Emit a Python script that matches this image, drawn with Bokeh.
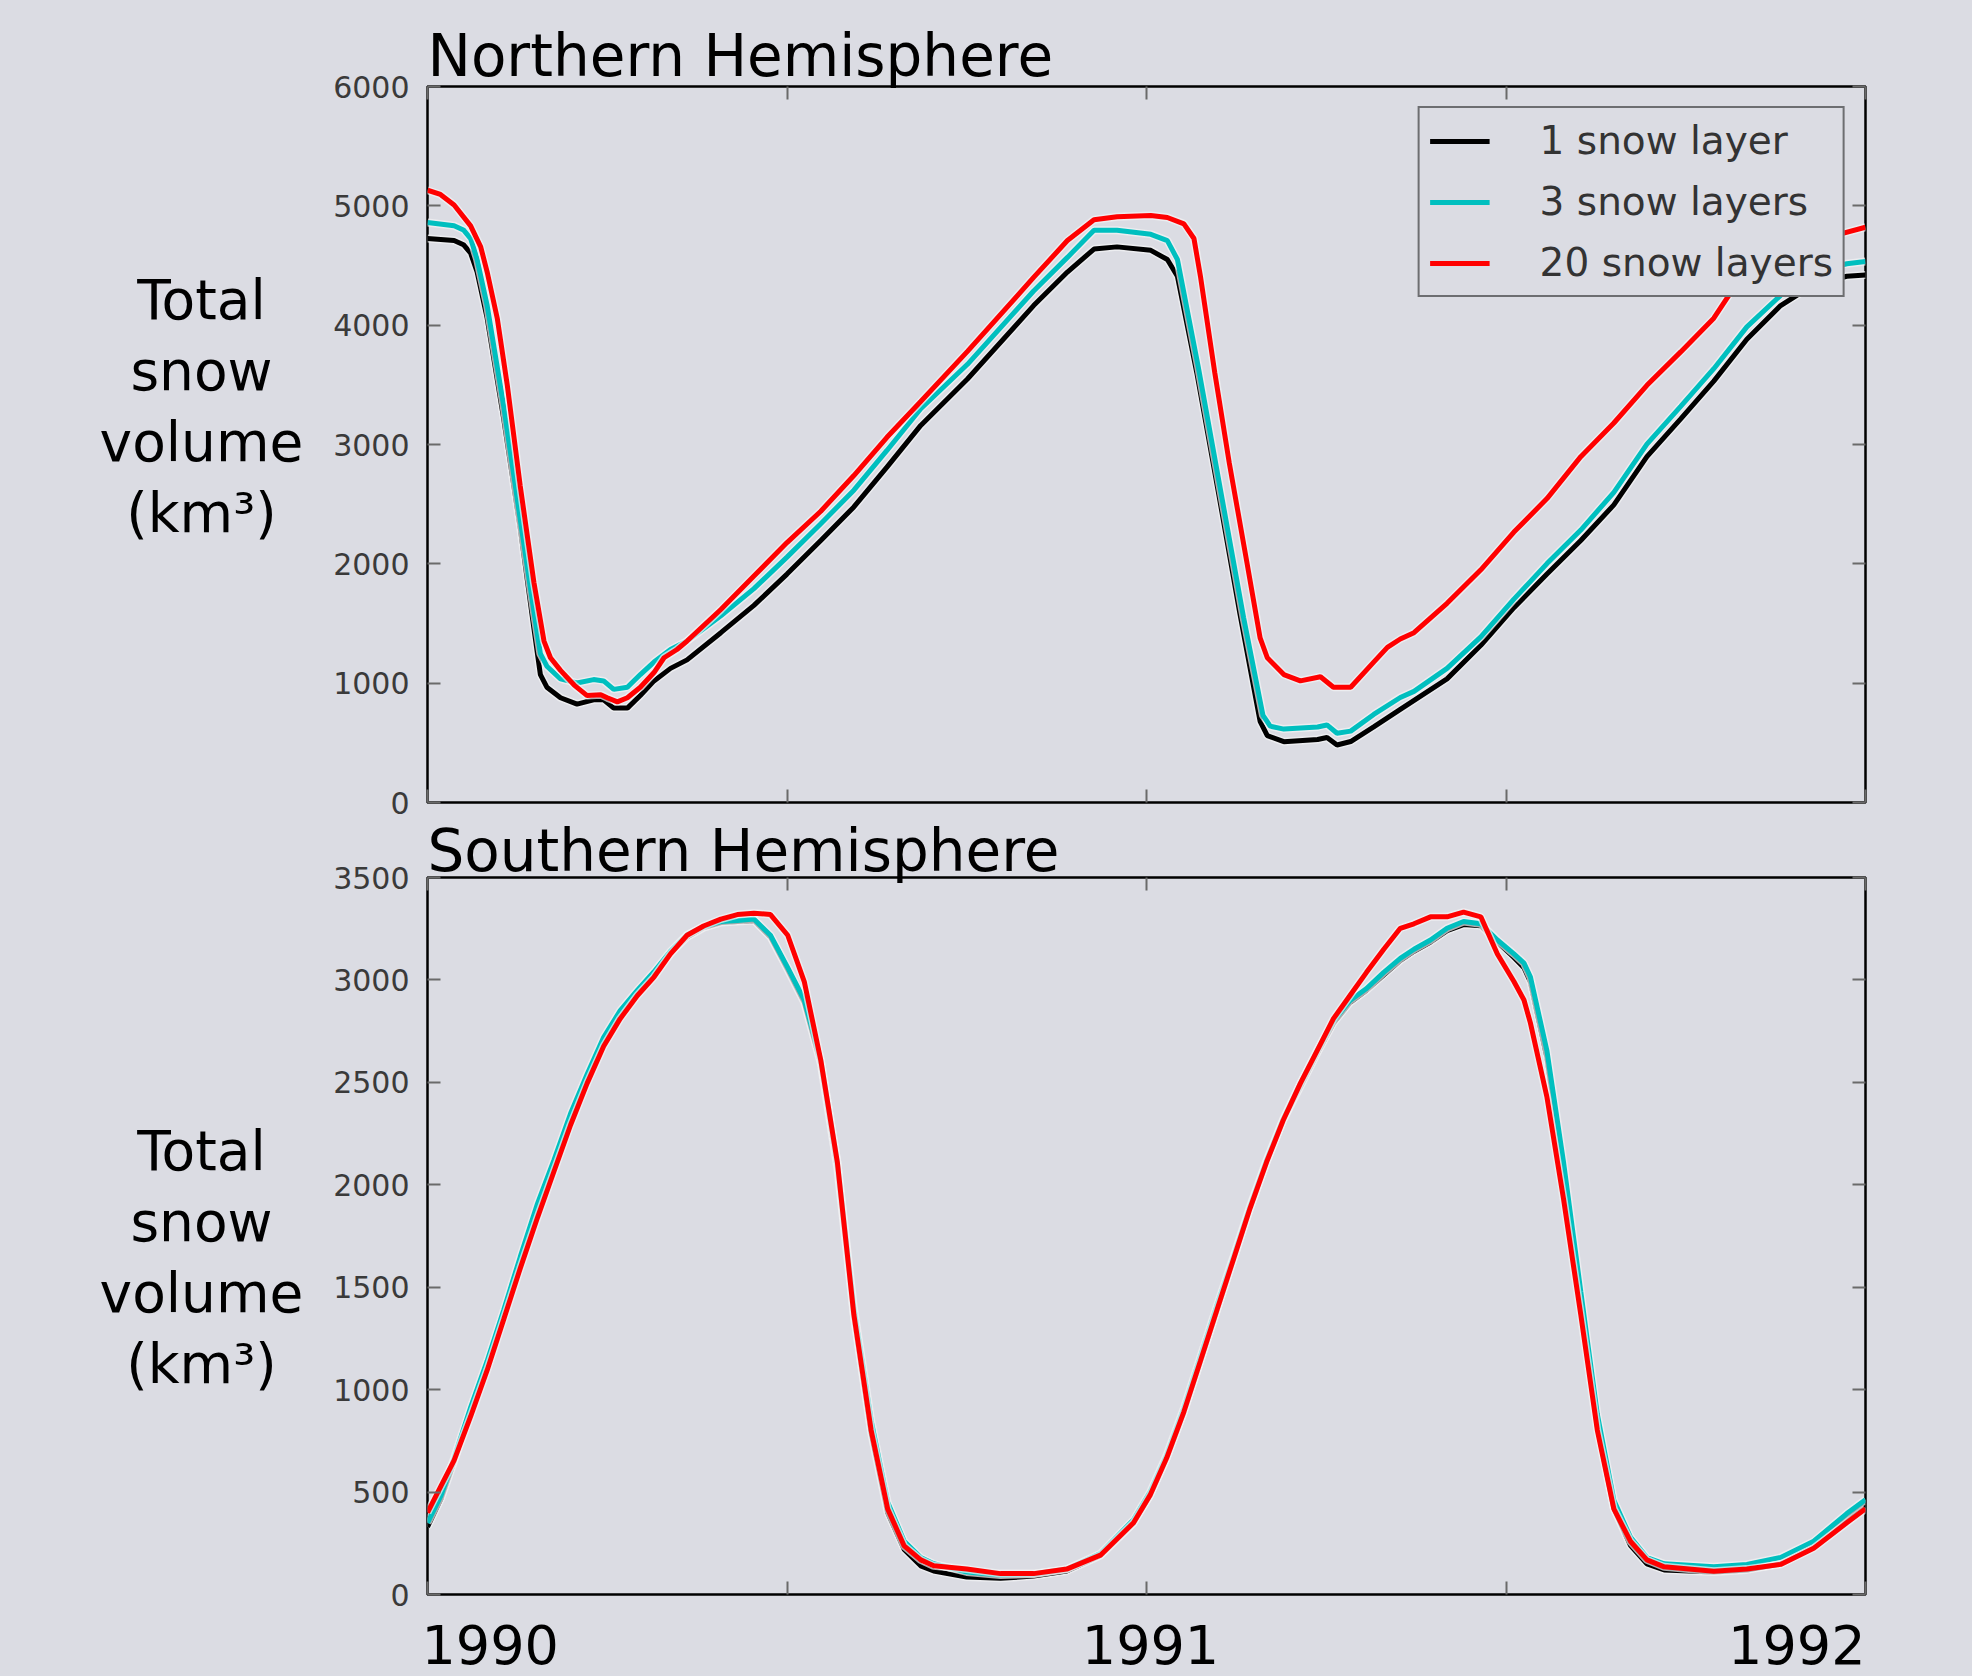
from bokeh.plotting import figure
from bokeh.models import Range1d, FixedTicker, LinearAxis, Legend, LegendItem, CustomLabelingPolicy
from bokeh.layouts import column, row
from bokeh.embed import file_html
from bokeh.resources import INLINE
from bokeh.core.properties import value

# ---------------- data (fractional years, km^3) ----------------
nh_1_x = [1990.000, 1990.037, 1990.050, 1990.060, 1990.069, 1990.083, 1990.106, 1990.129, 1990.148, 1990.157,
          1990.166, 1990.185, 1990.208, 1990.231, 1990.245, 1990.259, 1990.278, 1990.296, 1990.315, 1990.338,
          1990.361, 1990.408, 1990.454, 1990.500, 1990.547, 1990.593, 1990.639, 1990.686, 1990.751, 1990.843,
          1990.890, 1990.927, 1990.959, 1991.006, 1991.029, 1991.043, 1991.070, 1991.100, 1991.130, 1991.158,
          1991.168, 1991.191, 1991.238, 1991.251, 1991.265, 1991.284, 1991.316, 1991.353, 1991.418, 1991.465,
          1991.511, 1991.557, 1991.604, 1991.650, 1991.696, 1991.743, 1991.789, 1991.835, 1991.882, 1991.928,
          1991.974, 1992.000]
nh_1_y = [4726, 4710, 4674, 4603, 4445, 4058, 3215, 2301, 1458, 1072,
          966, 878, 825, 860, 860, 791, 791, 896, 1019, 1124,
          1195, 1423, 1652, 1914, 2196, 2477, 2810, 3160, 3549, 4164,
          4445, 4638, 4656, 4627, 4550, 4410, 3600, 2600, 1580, 680,
          560, 510, 528, 545, 482, 511, 633, 780, 1036, 1317,
          1633, 1914, 2196, 2494, 2898, 3215, 3531, 3882, 4164, 4339,
          4410, 4420]

nh_3_x = [1990.000, 1990.037, 1990.050, 1990.060, 1990.069, 1990.083, 1990.106, 1990.129, 1990.148, 1990.157,
          1990.166, 1990.185, 1990.208, 1990.231, 1990.245, 1990.259, 1990.278, 1990.296, 1990.315, 1990.338,
          1990.361, 1990.408, 1990.454, 1990.500, 1990.547, 1990.593, 1990.639, 1990.686, 1990.751, 1990.843,
          1990.890, 1990.927, 1990.959, 1991.006, 1991.029, 1991.043, 1991.072, 1991.105, 1991.135, 1991.162,
          1991.172, 1991.191, 1991.238, 1991.251, 1991.265, 1991.284, 1991.316, 1991.353, 1991.372, 1991.418,
          1991.465, 1991.511, 1991.557, 1991.604, 1991.650, 1991.696, 1991.743, 1991.789, 1991.835, 1991.882,
          1991.928, 1991.974, 1992.000]
nh_3_y = [4861, 4833, 4798, 4726, 4551, 4164, 3319, 2371, 1599, 1248,
          1142, 1036, 1001, 1030, 1019, 948, 966, 1072, 1177, 1282,
          1353, 1564, 1792, 2056, 2336, 2617, 2950, 3300, 3672, 4286,
          4568, 4796, 4796, 4761, 4709, 4550, 3650, 2550, 1550, 730,
          640, 615, 633, 650, 580, 598, 738, 880, 931, 1124,
          1388, 1704, 2002, 2283, 2599, 3003, 3319, 3635, 3986, 4250,
          4446, 4515, 4533]

nh_20_x = [1990.000, 1990.018, 1990.037, 1990.060, 1990.074, 1990.083, 1990.097, 1990.111, 1990.129, 1990.148,
           1990.162, 1990.171, 1990.185, 1990.204, 1990.222, 1990.241, 1990.250, 1990.264, 1990.278, 1990.296,
           1990.315, 1990.329, 1990.347, 1990.361, 1990.408, 1990.454, 1990.500, 1990.547, 1990.593, 1990.639,
           1990.686, 1990.751, 1990.843, 1990.890, 1990.927, 1990.959, 1991.006, 1991.029, 1991.052, 1991.066,
           1991.075, 1991.095, 1991.115, 1991.140, 1991.158, 1991.168, 1991.191, 1991.214, 1991.242, 1991.260,
           1991.284, 1991.316, 1991.335, 1991.353, 1991.372, 1991.418, 1991.465, 1991.511, 1991.557, 1991.604,
           1991.650, 1991.696, 1991.743, 1991.789, 1991.812, 1991.880, 1991.950, 1992.000]
nh_20_y = [5131, 5095, 5007, 4832, 4656, 4445, 4058, 3496, 2652, 1845,
           1353, 1213, 1107, 984, 896, 903, 878, 843, 878, 966,
           1089, 1213, 1282, 1353, 1617, 1898, 2178, 2441, 2740, 3060,
           3360, 3780, 4400, 4709, 4884, 4909, 4919, 4902, 4849, 4726,
           4410, 3600, 2850, 2000, 1380, 1213, 1072, 1019, 1054, 966,
           966, 1176, 1300, 1370, 1423, 1669, 1950, 2266, 2547, 2898,
           3180, 3496, 3776, 4058, 4269, 4530, 4740, 4821]

sh_x = [1990.000, 1990.019, 1990.037, 1990.060, 1990.083, 1990.106, 1990.129, 1990.153, 1990.176, 1990.199,
        1990.222, 1990.245, 1990.268, 1990.292, 1990.315, 1990.338, 1990.361, 1990.384, 1990.408, 1990.431,
        1990.454, 1990.477, 1990.501, 1990.524, 1990.547, 1990.570, 1990.593, 1990.617, 1990.640, 1990.663,
        1990.686, 1990.704, 1990.750, 1990.797, 1990.843, 1990.889, 1990.936, 1990.982, 1991.005, 1991.028,
        1991.052, 1991.075, 1991.098, 1991.121, 1991.144, 1991.167, 1991.190, 1991.214, 1991.237, 1991.260,
        1991.283, 1991.306, 1991.330, 1991.353, 1991.372, 1991.395, 1991.418, 1991.441, 1991.465, 1991.488,
        1991.511, 1991.525, 1991.534, 1991.557, 1991.580, 1991.604, 1991.627, 1991.650, 1991.673, 1991.696,
        1991.720, 1991.789, 1991.835, 1991.882, 1991.928, 1991.974, 1992.000]
sh_1_y = [330, 470, 650, 900, 1120, 1370, 1625, 1885, 2100, 2325,
          2520, 2700, 2835, 2940, 3030, 3130, 3210, 3255, 3280, 3285,
          3290, 3210, 3050, 2890, 2590, 2080, 1360, 790, 400, 220,
          140, 115, 85, 79, 90, 115, 190, 350, 485, 666,
          892, 1140, 1389, 1637, 1885, 2111, 2314, 2480, 2640, 2790,
          2890, 2950, 3025, 3095, 3140, 3185, 3240, 3270, 3265, 3185,
          3110, 3060, 2990, 2620, 2060, 1420, 820, 420, 240, 150,
          120, 110, 120, 150, 235, 370, 440]
sh_3_y = [350, 485, 666, 914, 1140, 1389, 1648, 1908, 2122, 2348,
          2540, 2720, 2850, 2950, 3040, 3140, 3220, 3260, 3285, 3290,
          3297, 3218, 3060, 2902, 2608, 2111, 1400, 850, 450, 260,
          180, 150, 110, 95, 100, 124, 200, 365, 500, 680,
          910, 1160, 1410, 1650, 1895, 2120, 2320, 2495, 2653, 2800,
          2900, 2958, 3037, 3105, 3150, 3195, 3252, 3285, 3274, 3195,
          3127, 3082, 3014, 2653, 2111, 1479, 880, 460, 280, 180,
          150, 135, 147, 181, 260, 395, 463]
sh_20_y = [400, 531, 655, 869, 1095, 1343, 1592, 1840, 2066, 2292,
           2495, 2676, 2811, 2924, 3014, 3127, 3218, 3263, 3297, 3319,
           3326, 3319, 3218, 2992, 2608, 2111, 1366, 802, 418, 237,
           169, 140, 124, 102, 102, 124, 192, 350, 485, 666,
           892, 1140, 1389, 1637, 1885, 2111, 2314, 2495, 2653, 2811,
           2924, 3037, 3150, 3252, 3274, 3308, 3308, 3331, 3308, 3127,
           2992, 2902, 2789, 2427, 1931, 1366, 802, 418, 260, 169,
           135, 113, 124, 147, 226, 350, 418]

series_labels = ["1 snow layer", "3 snow layers", "20 snow layers"]
series_colors = ["#000000", "#00bfbf", "#ff0000"]
x_ticks = [1990.0, 1990.5, 1991.0, 1991.5, 1992.0]
year_ticks = [1990.0, 1991.0, 1992.0]
year_labels = ["1990", "1991", "1992"]
nh_yticks = [0, 1000, 2000, 3000, 4000, 5000, 6000]
sh_yticks = [0, 500, 1000, 1500, 2000, 2500, 3000, 3500]
ylabel_lines = ["Total", "snow", "volume", "(km\u00b3)"]

# ---------------- layout / style (pixels) ----------------
BG = "#dbdce3"
FONT = "DejaVu Sans"
FRAME_W = 1438
LAB_W = 320          # width of the side panel holding the y-axis titles
LEFT = 107           # border left of each plot frame (for tick labels)
RIGHT = 105
NH_TOP, NH_FRAME_H, NH_BOT = 86, 716, 18
SH_TOP, SH_FRAME_H, SH_BOT = 57, 717, 18
YEAR_H = 64
PX = 2.0 / FRAME_W   # years per pixel

NO_LABELS = "for (const i of indices) { indices.unset(i) }\nreturn indices"


def add_axis(p, side, ticks, labels=False):
    ax = LinearAxis(ticker=FixedTicker(ticks=ticks))
    ax.axis_line_color = None
    ax.major_tick_in = 13
    ax.major_tick_out = 0
    ax.major_tick_line_color = "#6a6a6a"
    ax.major_tick_line_width = 2
    ax.minor_tick_line_color = None
    ax.axis_label_standoff = 0
    if labels:
        ax.major_label_text_font = FONT
        ax.major_label_text_font_size = "30px"
        ax.major_label_text_color = "#3a3a3a"
        ax.major_label_standoff = 18
    else:
        ax.major_label_text_font_size = "0px"
        ax.major_label_standoff = 0
        ax.major_label_policy = CustomLabelingPolicy(code=NO_LABELS)
    p.add_layout(ax, side)


def make_fig(title, ymax, yticks, frame_h, btop, bbot, title_standoff):
    p = figure(frame_width=FRAME_W, frame_height=frame_h,
               x_range=Range1d(1990, 1992), y_range=Range1d(0, ymax),
               x_axis_location=None, y_axis_location=None,
               output_backend="svg", toolbar_location=None,
               min_border_left=LEFT, min_border_right=RIGHT,
               min_border_top=btop, min_border_bottom=bbot,
               background_fill_color=BG, border_fill_color=BG)
    p.grid.grid_line_color = None
    p.outline_line_color = "black"
    p.outline_line_width = 2.5
    p.title.text = title
    p.title.text_font = FONT
    p.title.text_font_size = "58px"
    p.title.text_font_style = "normal"
    p.title.text_color = "black"
    p.title.align = "left"
    p.title.standoff = title_standoff
    add_axis(p, "left", yticks, labels=True)
    add_axis(p, "right", yticks)
    add_axis(p, "above", x_ticks)
    add_axis(p, "below", x_ticks)
    return p


def ylabel_panel(frame_h, btop, bbot, first_center, spacing):
    # side panel aligned with the plot frame; y measured in pixels from the frame top
    q = figure(frame_width=LAB_W, frame_height=frame_h,
               x_range=Range1d(0, LAB_W), y_range=Range1d(frame_h, 0),
               x_axis_location=None, y_axis_location=None,
               output_backend="svg", toolbar_location=None,
               min_border_left=0, min_border_right=0, min_border_top=btop, min_border_bottom=bbot,
               background_fill_color=BG, border_fill_color=BG)
    q.grid.grid_line_color = None
    q.outline_line_color = None
    ys = [first_center + i * spacing for i in range(len(ylabel_lines))]
    q.text(x=[201] * len(ylabel_lines), y=ys, text=ylabel_lines,
           text_align="center", text_baseline="middle",
           text_font=value(FONT), text_font_size="55px", text_color="black")
    return q


def draw(p, xs_list, ys_list):
    rs = []
    for xs, ys, c in zip(xs_list, ys_list, series_colors):
        p.line(xs, ys, line_color="#f3f3f5", line_width=8, line_alpha=0.7)
        rs.append(p.line(xs, ys, line_color=c, line_width=5))
    return rs


# ---------------- Northern Hemisphere ----------------
p1 = make_fig("Northern Hemisphere", 6000, nh_yticks, NH_FRAME_H, NH_TOP, NH_BOT, -6)
r = draw(p1, [nh_1_x, nh_3_x, nh_20_x], [nh_1_y, nh_3_y, nh_20_y])
legend = Legend(items=[LegendItem(label=l, renderers=[rr]) for l, rr in zip(series_labels, r)],
                location="top_right")
legend.label_text_font = FONT
legend.label_text_font_size = "39px"
legend.label_text_color = "#333333"
legend.glyph_width = 60
legend.glyph_height = 40
legend.label_height = 40
legend.label_standoff = 50
legend.padding = 10
legend.spacing = 16
legend.margin = 20
legend.border_line_color = "black"
legend.border_line_width = 2
legend.background_fill_color = BG
legend.background_fill_alpha = 1.0
p1.add_layout(legend)
lab1 = ylabel_panel(NH_FRAME_H, NH_TOP, NH_BOT, 213, 71)

# ---------------- Southern Hemisphere ----------------
p2 = make_fig("Southern Hemisphere", 3500, sh_yticks, SH_FRAME_H, SH_TOP, SH_BOT, -14)
draw(p2, [sh_x, sh_x, sh_x], [sh_1_y, sh_3_y, sh_20_y])
lab2 = ylabel_panel(SH_FRAME_H, SH_TOP, SH_BOT, 273, 71)

# ---------------- year labels strip (aligned with the plot frames) ----------------
strip_w = LAB_W + LEFT + FRAME_W + RIGHT
yrs = figure(frame_width=strip_w, frame_height=YEAR_H,
             x_range=Range1d(1990 - (LAB_W + LEFT) * PX, 1990 + (strip_w - LAB_W - LEFT) * PX),
             y_range=Range1d(YEAR_H, 0),
             x_axis_location=None, y_axis_location=None,
             output_backend="svg", toolbar_location=None,
             min_border=0, background_fill_color=BG, border_fill_color=BG)
yrs.grid.grid_line_color = None
yrs.outline_line_color = None
aligns = ["left", "center", "right"]
shifts = [-6, 4, 0]
for xt, lab, al, sh in zip(year_ticks, year_labels, aligns, shifts):
    yrs.text(x=[xt + sh * PX], y=[12], text=[lab], text_align=al, text_baseline="top",
             text_font=value(FONT), text_font_size="54px", text_color="black")

layout = column(row(lab1, p1), row(lab2, p2), yrs)
try:
    from bokeh.models import GlobalInlineStyleSheet
    layout.stylesheets = [GlobalInlineStyleSheet(css="body{background:%s;}" % BG)]
except Exception:
    pass

open("out.html", "w").write(file_html(layout, INLINE))
